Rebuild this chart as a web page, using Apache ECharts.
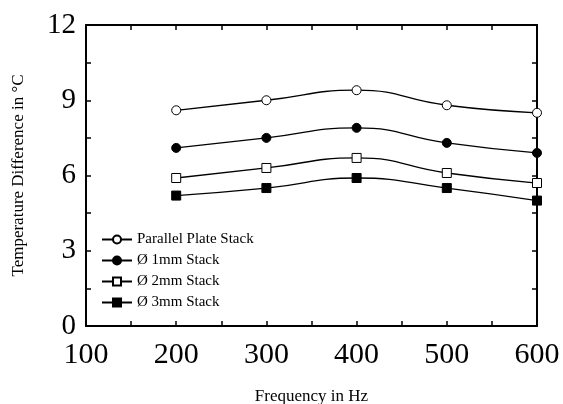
<!DOCTYPE html>
<html>
<head>
<meta charset="utf-8">
<script src="https://cdn.jsdelivr.net/npm/echarts@6/dist/echarts.min.js"></script>
<style>html,body{margin:0;padding:0;background:#fff;}#c{width:563px;height:404px;}</style>
</head>
<body>
<div id="c"></div>
<script>
var frequencies = [200, 300, 400, 500, 600];
var parallelPlate = [8.6, 9.0, 9.4, 8.8, 8.5];
var stack1mm = [7.1, 7.5, 7.9, 7.3, 6.9];
var stack2mm = [5.9, 6.3, 6.7, 6.1, 5.7];
var stack3mm = [5.2, 5.5, 5.9, 5.5, 5.0];
var seriesNames = ['Parallel Plate Stack', 'Ø 1mm Stack', 'Ø 2mm Stack', 'Ø 3mm Stack'];

function pairs(vals) { return frequencies.map(function (f, i) { return [f, vals[i]]; }); }

var FONT = '"Liberation Serif", "DejaVu Serif", serif';
var chart = echarts.init(document.getElementById('c'), null, { renderer: 'canvas' });

function mkSeries(name, vals, symbol, filled) {
  return {
    name: name, type: 'line', data: pairs(vals), smooth: 0.5,
    symbol: symbol, symbolSize: 9, showSymbol: true,
    lineStyle: { color: '#000', width: 1.3 },
    itemStyle: { color: filled ? '#000' : '#fff', borderColor: '#000', borderWidth: 1 },
    emphasis: { disabled: true },
    xAxisIndex: 0, yAxisIndex: 0, z: 3
  };
}

var tickCommon = { show: true, inside: true, length: 5, lineStyle: { color: '#000', width: 1.5 } };
var minorCommon = { show: true, splitNumber: 2, length: 5, lineStyle: { color: '#000', width: 1.5 } };
var lineCommon = { show: true, onZero: false, lineStyle: { color: '#000', width: 2 } };

chart.setOption({
  animation: false,
  backgroundColor: '#fff',
  grid: { left: 86, right: 26, top: 25, bottom: 78, containLabel: false, outerBoundsMode: 'none' },
  legend: {
    orient: 'vertical', left: 96, top: 227, itemWidth: 30, itemHeight: 10, itemGap: 6,
    textStyle: { fontFamily: FONT, fontSize: 15, color: '#000' },
    data: seriesNames
  },
  xAxis: [{
    type: 'value', min: 100, max: 600, interval: 100, position: 'bottom',
    name: 'Frequency in Hz', nameLocation: 'middle', nameGap: 62,
    nameTextStyle: { fontFamily: FONT, fontSize: 17, color: '#000' },
    axisLine: lineCommon, axisTick: tickCommon, minorTick: minorCommon,
    splitLine: { show: false },
    axisLabel: { fontFamily: FONT, fontSize: 30, color: '#000', margin: 14 }
  }, {
    type: 'value', min: 100, max: 600, interval: 100, position: 'top',
    axisLine: lineCommon, axisTick: tickCommon, minorTick: minorCommon,
    splitLine: { show: false }, axisLabel: { show: false }
  }],
  yAxis: [{
    type: 'value', min: 0, max: 12, interval: 3, position: 'left',
    name: 'Temperature Difference in °C', nameLocation: 'middle', nameGap: 59,
    nameTextStyle: { fontFamily: FONT, fontSize: 17, color: '#000' },
    axisLine: lineCommon, axisTick: tickCommon, minorTick: minorCommon,
    splitLine: { show: false },
    axisLabel: { fontFamily: FONT, fontSize: 29, color: '#000', margin: 10 }
  }, {
    type: 'value', min: 0, max: 12, interval: 3, position: 'right',
    axisLine: lineCommon, axisTick: tickCommon, minorTick: minorCommon,
    splitLine: { show: false }, axisLabel: { show: false }
  }],
  series: [
    mkSeries(seriesNames[0], parallelPlate, 'circle', false),
    mkSeries(seriesNames[1], stack1mm, 'circle', true),
    mkSeries(seriesNames[2], stack2mm, 'rect', false),
    mkSeries(seriesNames[3], stack3mm, 'rect', true)
  ]
});
</script>
</body>
</html>
